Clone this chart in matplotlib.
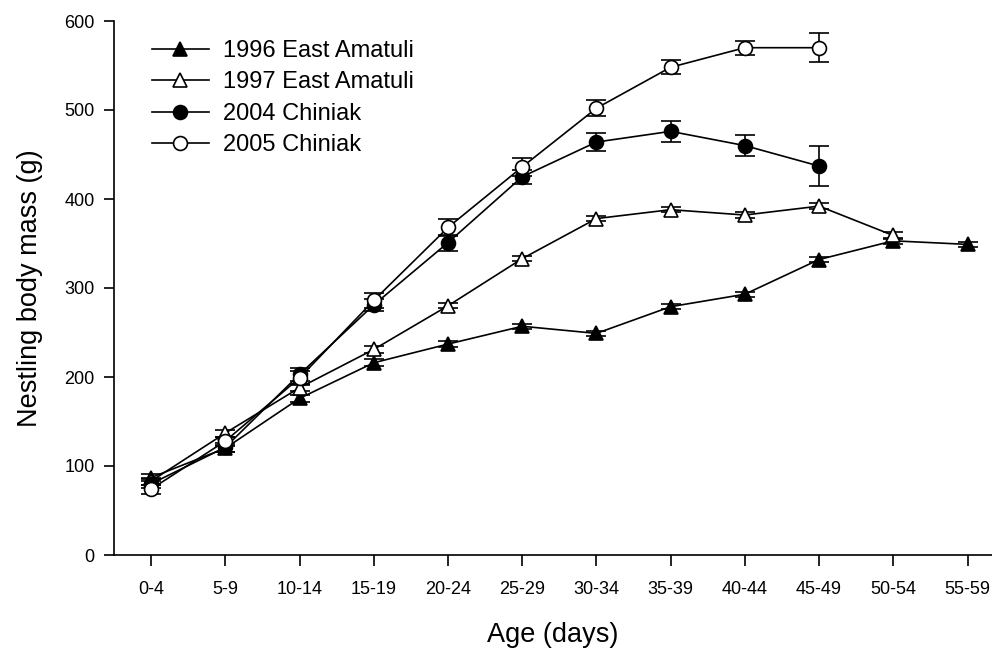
import matplotlib
matplotlib.use("Agg")
import matplotlib.pyplot as plt
import numpy as np

plt.rcParams['font.family'] = ['Liberation Sans', 'DejaVu Sans']

age_classes = ["0-4", "5-9", "10-14", "15-19", "20-24", "25-29",
               "30-34", "35-39", "40-44", "45-49", "50-54", "55-59"]

# mean nestling mass (g) and SE per age class
ea1996 = [87, 120, 176, 216, 237, 257, 249, 279, 293, 332, 353, 349]
ea1996_se = [4, 4, 4, 4, 3, 3, 3, 3, 3, 3, 3, 3]

ea1997 = [83, 137, 188, 231, 280, 333, 378, 388, 382, 392, 359]
ea1997_se = [4, 4, 4, 4, 3, 3, 3, 3, 3, 3, 4]

ch2004 = [80, 121, 203, 281, 351, 425, 464, 476, 460, 437]
ch2004_se = [5, 5, 7, 7, 9, 8, 10, 12, 12, 22]

ch2005 = [74, 128, 199, 286, 368, 436, 502, 548, 570, 570]
ch2005_se = [5, 5, 8, 8, 10, 10, 9, 8, 8, 16]

series = [
    ("1996 East Amatuli", ea1996, ea1996_se, "^", "black"),
    ("1997 East Amatuli", ea1997, ea1997_se, "^", "white"),
    ("2004 Chiniak", ch2004, ch2004_se, "o", "black"),
    ("2005 Chiniak", ch2005, ch2005_se, "o", "white"),
]

fig = plt.figure(figsize=(9.92, 6.48), dpi=100)
ax = fig.add_axes([114 / 992, 93 / 648, 878 / 992, 534 / 648])

for label, vals, se, mk, fc in series:
    x = np.arange(len(vals))
    ax.errorbar(x, vals, yerr=se, fmt="none", ecolor="black",
                elinewidth=1.2, capsize=7, capthick=1.2, zorder=2)
    ax.plot(x, vals, color="black", lw=1.2, marker=mk,
            markersize=10 if mk == "o" else 9.5, markerfacecolor=fc,
            markeredgecolor="black", markeredgewidth=1.2,
            label=label, zorder=3)

ax.set_xlim(-0.5, 11.33)
ax.set_ylim(0, 600)
ax.set_xticks(np.arange(len(age_classes)))
ax.set_xticklabels(age_classes)
ax.set_yticks(range(0, 601, 100))

for side in ["top", "right"]:
    ax.spines[side].set_visible(False)
for side in ["left", "bottom"]:
    ax.spines[side].set_linewidth(1.2)

ax.tick_params(axis="both", direction="out", width=1.2, labelsize=13)
ax.tick_params(axis="y", length=7, pad=7)
ax.tick_params(axis="x", length=8, pad=11)

ax.set_xlabel("Age (days)", fontsize=19.5, labelpad=17)
ax.set_ylabel("Nestling body mass (g)", fontsize=19.5, labelpad=15)

ax.legend(loc="upper left", bbox_to_anchor=(152 / 992, 1 - 40 / 648),
          bbox_transform=fig.transFigure, frameon=False, fontsize=17,
          handlelength=2.4, handletextpad=0.6, labelspacing=0.4,
          borderpad=0, borderaxespad=0)

fig.savefig("out.png", dpi=100)
